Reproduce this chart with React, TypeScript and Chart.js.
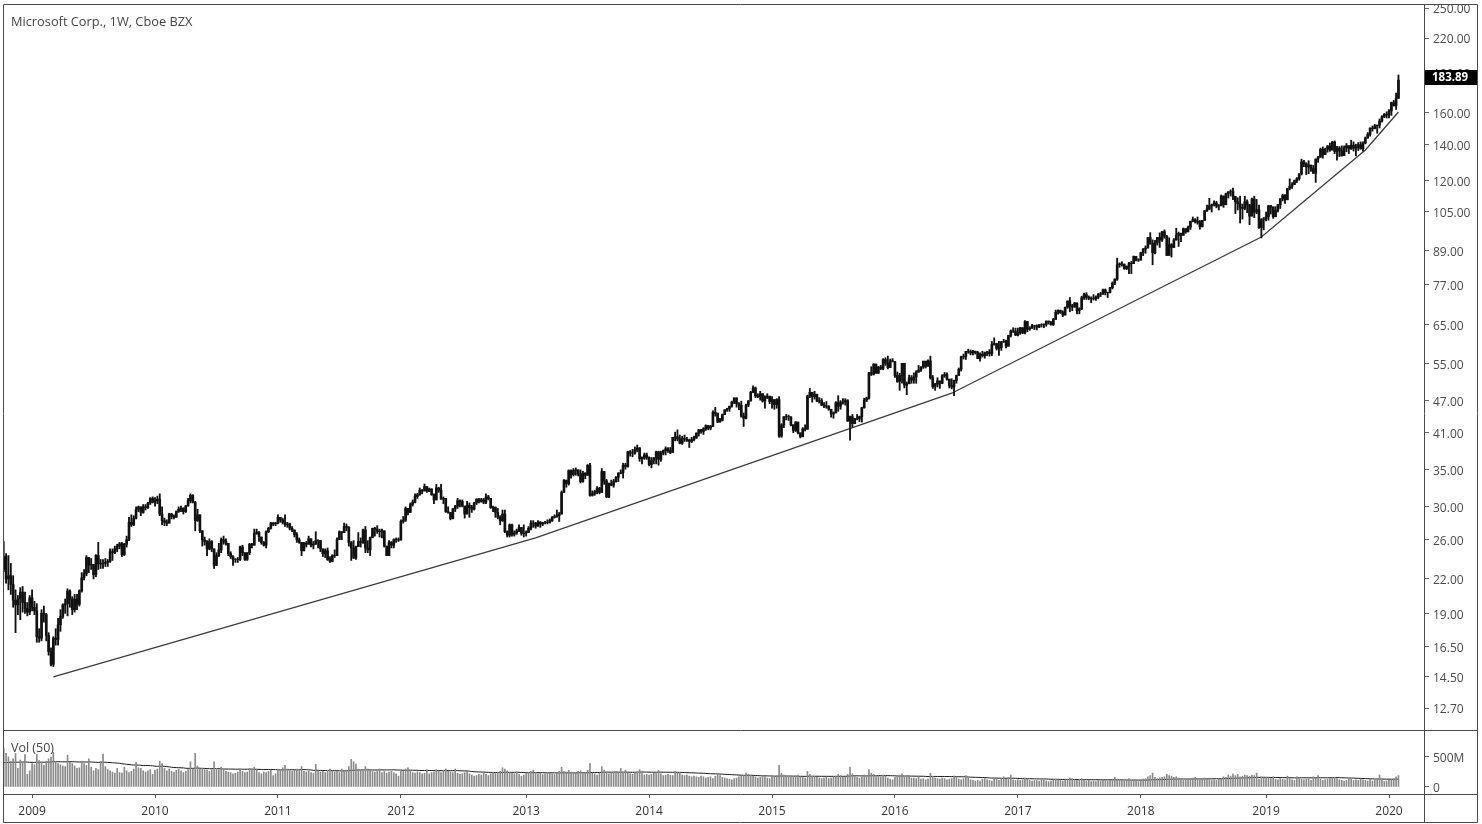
import React, { useEffect, useRef } from 'react';
import { Chart, registerables } from 'chart.js';

Chart.register(...registerables);

// ---- Data (weekly, first bar = week of 13 Oct 2008) ----
const yearLabels = ['2009', '2010', '2011', '2012', '2013', '2014', '2015', '2016', '2017', '2018', '2019', '2020'];
const yearWeekIndex = [12, 64, 116, 168, 221, 273, 325, 377, 429, 481, 534, 586];
const priceTicks = [12.7, 14.5, 16.5, 19, 22, 26, 30, 35, 41, 47, 55, 65, 77, 89, 105, 120, 140, 160, 190, 220, 250];
const volumeTicks = [0, 500];
const lastPrice = 183.89;
const firstOpen = 22.9;
const volumeBeforeChart = 400; // average weekly volume (M) before the first visible bar

const weeklyClose = [
  24.2, 22.0, 22.3, 21.5, 20.1, 19.7, 20.2, 20.8, 19.9, 19.4, 19.1, 20.3,
  19.5, 19.2, 17.2, 17.1, 19.0, 18.9, 17.3, 16.15, 15.3, 17.1, 17.0, 18.1, 18.75, 19.7, 19.8, 20.9, 20.2, 19.3, 20.2, 19.75, 20.9, 22.1, 22.5, 24.1, 23.35, 23.4, 22.4, 24.3, 23.45, 23.5, 23.5, 23.6, 23.7, 24.7, 24.6, 25.0, 25.3, 25.55, 24.4, 25.5, 26.0, 28.0, 27.7, 28.5, 29.6, 29.9, 29.2, 29.9, 29.8, 30.4, 31.0, 30.5,
  30.7, 30.9, 29.0, 28.2, 28.0, 27.9, 29.0, 28.7, 28.6, 29.3, 29.6, 29.7, 29.3, 30.0, 30.7, 31.4, 30.5, 28.2, 28.9, 27.0, 26.0, 25.8, 25.0, 25.8, 25.0, 23.3, 24.3, 24.9, 26.0, 25.8, 25.6, 24.5, 24.2, 23.9, 23.9, 23.9, 25.2, 24.6, 23.9, 24.6, 25.5, 25.4, 26.7, 26.85, 26.3, 25.7, 25.4, 26.9, 27.3, 27.9, 27.8, 27.9,
  28.6, 28.3, 28.0, 27.75, 27.8, 27.3, 27.1, 26.55, 26.0, 25.7, 24.8, 25.6, 25.5, 26.1, 25.4, 25.5, 25.9, 25.9, 25.0, 24.5, 24.8, 23.9, 23.7, 24.3, 24.3, 26.0, 26.9, 26.8, 27.5, 27.4, 25.7, 25.1, 24.05, 25.25, 25.8, 25.7, 27.1, 25.1, 24.9, 26.25, 27.3, 27.2, 26.98, 26.9, 27.0, 25.3, 24.3, 25.7, 25.4, 26.0, 26.0, 25.96,
  28.1, 28.25, 29.7, 29.2, 30.2, 30.5, 31.25, 31.5, 32.1, 31.99, 32.6, 31.99, 32.26, 31.5, 30.8, 32.4, 32.1, 30.9, 31.0, 29.3, 29.2, 28.45, 29.65, 30.0, 30.7, 30.6, 30.0, 29.0, 30.1, 29.8, 29.6, 30.4, 30.9, 30.6, 30.8, 30.5, 31.2, 31.0, 29.8, 29.85, 29.2, 28.6, 28.2, 29.0, 26.9, 26.5, 27.7, 26.6, 26.75, 27.0, 27.4, 26.7, 26.75,
  26.8, 27.3, 27.9, 27.9, 27.55, 28.0, 27.8, 27.95, 28.0, 28.0, 28.2, 28.6, 28.7, 28.8, 29.0, 31.8, 33.5, 33.0, 34.9, 34.3, 34.9, 35.0, 34.4, 33.3, 34.5, 34.2, 35.7, 31.4, 31.6, 31.9, 32.35, 31.8, 34.75, 33.4, 31.2, 33.0, 32.8, 33.3, 33.9, 34.5, 34.6, 35.7, 35.5, 37.8, 37.6, 37.6, 38.1, 38.4, 36.7, 36.8, 37.3, 36.9,
  35.8, 36.4, 36.8, 37.8, 36.6, 37.6, 37.98, 38.3, 38.0, 37.7, 40.2, 40.3, 39.9, 39.2, 40.0, 39.9, 39.7, 39.5, 39.8, 40.1, 40.9, 41.5, 41.2, 41.7, 42.25, 41.8, 42.1, 44.7, 44.5, 42.9, 43.2, 44.3, 45.2, 45.4, 45.9, 46.7, 47.5, 46.4, 46.1, 44.0, 43.6, 46.1, 46.95, 48.7, 49.6, 47.98, 47.8, 48.4, 46.95, 47.7, 47.9, 46.8,
  47.2, 46.2, 47.2, 40.4, 42.4, 43.9, 43.9, 43.85, 42.4, 41.4, 42.9, 40.97, 40.3, 41.7, 41.6, 47.9, 48.7, 47.8, 48.3, 46.9, 47.0, 46.1, 45.97, 45.9, 45.3, 44.4, 44.6, 46.6, 45.9, 46.7, 46.7, 47.0, 43.1, 43.9, 42.6, 43.5, 43.5, 43.9, 45.6, 47.1, 47.5, 52.9, 52.6, 54.9, 52.8, 54.2, 53.9, 56.0, 55.1, 54.1, 55.7, 55.5,
  52.3, 50.99, 52.3, 55.1, 50.2, 50.5, 51.8, 51.3, 52.0, 53.1, 53.5, 54.2, 55.6, 54.4, 55.65, 51.8, 49.9, 50.4, 51.1, 50.6, 52.3, 52.5, 51.5, 50.1, 49.8, 51.2, 52.3, 53.7, 56.6, 56.7, 57.96, 57.9, 57.6, 58.0, 57.7, 56.2, 57.25, 56.9, 57.6, 57.8, 57.4, 59.7, 59.9, 58.7, 58.9, 60.35, 60.5, 59.25, 62.0, 63.2, 63.2, 62.1,
  62.8, 64.1, 62.7, 65.8, 63.7, 64.0, 64.6, 64.6, 64.25, 64.9, 64.9, 64.98, 65.9, 65.7, 64.95, 66.4, 68.5, 69.0, 68.4, 67.7, 69.96, 71.8, 70.3, 70.0, 71.2, 68.9, 69.5, 72.8, 73.8, 73.0, 72.7, 72.5, 72.5, 73.0, 73.9, 73.98, 75.3, 74.4, 74.5, 76.0, 77.5, 78.8, 83.8, 84.1, 84.0, 82.4, 83.3, 84.3, 84.2, 86.85, 85.5, 85.5,
  88.2, 89.6, 90.0, 94.1, 91.8, 88.2, 92.0, 94.1, 93.1, 96.5, 94.6, 87.2, 91.3, 90.2, 93.1, 95.0, 95.8, 95.0, 97.7, 96.4, 98.4, 100.8, 101.6, 100.9, 100.4, 98.6, 101.2, 105.4, 106.3, 107.7, 108.1, 109.0, 107.6, 107.7, 112.3, 108.2, 113.4, 114.3, 114.4, 112.1, 109.6, 108.7, 106.96, 106.5, 109.6, 108.3, 103.1, 110.9, 104.8, 106.0, 98.2, 101.6, 101.9,
  102.8, 107.7, 107.2, 102.8, 105.7, 108.2, 110.97, 112.5, 110.5, 115.9, 117.05, 117.9, 119.9, 120.95, 123.4, 129.9, 128.9, 127.1, 128.1, 126.2, 123.7, 131.4, 132.45, 137.0, 133.96, 137.1, 138.9, 136.6, 141.3, 135.7, 137.7, 136.1, 133.4, 137.9, 139.1, 137.3, 139.4, 137.7, 138.1, 139.7, 137.4, 140.7, 143.7, 145.96, 149.97, 149.6, 151.4, 151.75, 154.5, 157.4, 158.96, 158.6,
  161.3, 167.1, 165.04, 170.2, 183.89,
];

const weeklyHigh = [
  25.8, 24.5, 24.3, 23.5, 22.3, 21.0, 20.5, 21.2, 21.3, 20.8, 19.9, 20.5,
  21.0, 20.0, 19.8, 17.8, 19.3, 19.6, 19.0, 17.5, 16.4, 17.2, 17.8, 18.6, 19.3, 19.8, 20.2, 21.1, 21.0, 20.4, 20.6, 20.6, 21.0, 22.6, 22.9, 24.3, 24.1, 24.0, 23.4, 24.4, 25.7, 23.9, 23.9, 24.0, 23.9, 25.0, 25.0, 25.3, 25.5, 25.7, 25.7, 25.6, 26.4, 28.6, 28.9, 28.8, 29.9, 30.0, 29.9, 30.2, 30.2, 30.5, 31.1, 31.2,
  31.1, 31.3, 31.6, 29.9, 28.5, 28.3, 29.1, 29.1, 28.9, 29.4, 29.9, 30.0, 29.8, 30.1, 31.0, 31.6, 31.5, 30.6, 29.6, 28.9, 27.0, 26.3, 25.9, 26.1, 25.9, 24.9, 24.6, 25.6, 26.2, 26.4, 26.1, 25.5, 24.7, 24.3, 24.0, 24.1, 25.3, 25.4, 24.6, 24.6, 25.6, 25.6, 27.2, 27.2, 26.9, 26.2, 25.8, 27.0, 27.4, 28.0, 28.0, 28.0,
  28.9, 28.6, 28.5, 28.9, 28.0, 27.9, 27.5, 27.1, 26.8, 26.2, 25.7, 25.7, 25.8, 26.4, 26.0, 25.8, 26.9, 26.0, 25.6, 25.0, 25.0, 25.1, 24.2, 24.4, 24.9, 26.2, 27.0, 26.9, 27.9, 27.8, 27.5, 25.8, 25.9, 25.3, 26.8, 26.2, 27.2, 27.5, 25.9, 26.3, 27.3, 27.4, 27.6, 27.2, 27.2, 27.0, 25.3, 25.9, 25.8, 26.1, 26.2, 26.2,
  28.3, 28.7, 29.9, 29.7, 30.4, 30.8, 31.6, 31.7, 32.4, 32.2, 32.95, 32.5, 32.4, 32.3, 31.6, 32.9, 32.5, 32.9, 31.2, 30.9, 29.9, 29.2, 29.7, 30.1, 31.0, 30.8, 30.8, 30.0, 30.6, 30.4, 30.1, 30.5, 30.95, 31.0, 31.0, 31.0, 31.6, 31.4, 31.0, 30.0, 29.9, 29.7, 28.8, 29.5, 29.5, 27.0, 27.8, 27.8, 27.0, 27.2, 27.7, 27.4, 27.7,
  27.0, 27.5, 28.2, 28.2, 28.0, 28.2, 28.1, 28.0, 28.1, 28.3, 28.4, 28.7, 28.9, 29.5, 29.2, 32.0, 33.6, 33.5, 35.0, 35.0, 35.2, 35.3, 35.0, 35.0, 34.8, 34.6, 35.8, 36.0, 32.0, 32.1, 32.6, 32.5, 35.2, 34.8, 33.6, 33.1, 33.5, 33.6, 34.0, 34.6, 35.0, 36.0, 36.0, 37.9, 38.0, 38.2, 38.6, 38.9, 38.5, 37.0, 37.6, 37.6,
  37.0, 36.9, 36.9, 37.9, 37.9, 37.9, 38.1, 38.6, 38.5, 38.5, 40.2, 41.1, 41.5, 40.6, 40.4, 40.6, 40.2, 39.9, 40.2, 40.4, 41.0, 41.6, 41.6, 41.9, 42.4, 42.3, 42.3, 45.0, 45.7, 44.6, 43.6, 44.4, 45.2, 45.5, 45.9, 46.9, 47.6, 47.6, 46.6, 46.9, 44.6, 46.3, 47.0, 48.9, 50.05, 49.8, 48.4, 48.9, 48.4, 48.0, 48.4, 47.9,
  47.8, 47.2, 47.4, 47.8, 42.6, 43.9, 44.3, 44.2, 43.9, 42.4, 43.0, 42.9, 40.9, 41.9, 42.4, 48.1, 49.5, 48.7, 48.9, 48.3, 47.6, 47.4, 46.6, 46.8, 46.0, 45.2, 44.8, 46.8, 48.0, 47.0, 47.4, 47.4, 47.2, 44.0, 44.3, 43.6, 44.3, 44.0, 45.7, 47.5, 47.7, 53.0, 54.3, 55.0, 54.9, 54.4, 54.6, 56.2, 56.4, 56.8, 56.1, 56.2,
  55.4, 53.1, 52.8, 55.1, 55.1, 50.9, 52.4, 52.3, 52.9, 53.4, 54.6, 54.3, 55.6, 55.3, 55.9, 56.8, 52.3, 50.6, 51.8, 51.1, 52.5, 53.0, 52.9, 51.1, 51.6, 51.3, 52.4, 54.0, 56.8, 57.3, 58.0, 58.5, 58.3, 58.2, 58.0, 58.0, 57.6, 58.0, 57.8, 58.0, 58.4, 60.45, 61.4, 60.0, 60.5, 60.5, 61.0, 60.8, 62.1, 63.5, 64.1, 64.0,
  64.0, 64.2, 64.1, 66.1, 65.9, 64.4, 65.0, 64.8, 64.9, 65.0, 65.2, 65.2, 66.0, 66.0, 65.8, 66.7, 69.1, 69.2, 69.1, 68.9, 70.0, 71.9, 72.9, 70.8, 71.4, 71.3, 69.8, 73.3, 74.3, 74.4, 73.4, 73.1, 73.8, 73.4, 74.2, 74.5, 75.6, 75.6, 74.6, 76.1, 77.9, 78.97, 86.2, 84.5, 84.9, 84.1, 83.4, 84.7, 85.0, 87.0, 86.9, 86.0,
  88.4, 89.8, 90.8, 94.1, 96.1, 93.2, 93.0, 94.2, 96.0, 96.5, 97.2, 95.0, 94.0, 91.7, 93.7, 97.9, 96.3, 95.9, 98.0, 97.7, 98.8, 100.9, 102.7, 102.0, 102.7, 101.2, 101.2, 105.6, 108.0, 111.2, 108.5, 110.0, 109.8, 108.3, 112.8, 112.0, 113.7, 114.4, 115.3, 116.2, 112.2, 111.5, 112.2, 108.5, 112.2, 110.5, 107.3, 111.3, 112.2, 110.7, 108.0, 102.0, 102.5,
  104.9, 107.9, 107.9, 107.0, 107.3, 108.3, 111.0, 113.2, 113.0, 116.0, 120.8, 118.9, 120.2, 121.5, 123.5, 131.4, 130.7, 129.4, 130.5, 128.0, 127.9, 131.5, 133.0, 137.7, 138.4, 137.7, 139.2, 140.7, 141.7, 142.0, 138.8, 138.6, 139.0, 139.0, 140.4, 138.3, 142.4, 141.4, 140.0, 141.0, 141.4, 141.4, 144.4, 147.1, 150.1, 151.3, 152.3, 152.0, 155.9, 158.1, 159.6, 160.7,
  162.2, 167.5, 168.7, 174.05, 188.0,
];

const weeklyLow = [
  22.7, 21.6, 21.0, 20.6, 19.5, 17.5, 18.9, 18.5, 19.1, 19.0, 18.8, 18.9,
  19.2, 18.9, 16.8, 16.8, 16.9, 18.3, 16.9, 15.9, 15.2, 15.15, 16.6, 16.6, 17.6, 18.6, 19.0, 18.8, 19.5, 18.9, 19.1, 19.3, 19.6, 20.8, 21.9, 22.3, 22.6, 22.9, 22.0, 22.2, 22.9, 23.0, 23.0, 23.2, 23.2, 23.6, 23.8, 24.5, 24.7, 25.0, 24.2, 24.3, 25.2, 25.9, 27.5, 27.6, 28.4, 29.3, 28.8, 29.1, 29.5, 29.7, 30.2, 30.4,
  30.0, 30.3, 28.8, 27.7, 27.6, 27.6, 27.9, 28.4, 28.4, 28.6, 29.2, 29.3, 29.0, 29.2, 30.0, 30.4, 30.4, 27.0, 28.1, 26.8, 25.3, 25.4, 24.3, 24.9, 24.7, 23.0, 23.3, 24.2, 24.6, 25.5, 25.4, 24.3, 24.0, 23.3, 23.6, 23.6, 23.8, 24.3, 23.8, 23.8, 24.4, 25.1, 25.6, 26.6, 25.8, 25.5, 25.3, 25.1, 26.8, 27.2, 27.6, 27.6,
  27.8, 28.0, 27.8, 27.5, 27.4, 27.1, 26.9, 26.3, 25.7, 25.6, 24.3, 24.9, 25.2, 25.5, 25.2, 25.0, 25.6, 25.1, 24.7, 24.2, 24.1, 23.8, 23.6, 23.65, 24.1, 24.3, 26.0, 26.0, 26.8, 27.0, 25.3, 23.8, 24.0, 23.9, 25.3, 25.2, 25.6, 24.6, 24.6, 24.3, 26.2, 26.4, 26.7, 26.3, 26.2, 25.2, 24.3, 24.6, 25.1, 25.1, 25.7, 25.8,
  26.1, 27.9, 28.1, 28.9, 29.2, 30.0, 30.4, 31.0, 31.4, 31.6, 32.0, 31.8, 31.9, 31.4, 30.3, 30.9, 31.8, 30.9, 30.3, 29.2, 29.1, 28.3, 28.4, 29.3, 29.7, 29.9, 29.9, 28.5, 29.0, 28.6, 29.2, 29.5, 30.2, 30.4, 30.5, 30.3, 30.3, 30.8, 29.7, 29.3, 28.6, 28.4, 27.7, 28.1, 26.8, 26.3, 26.3, 26.4, 26.4, 26.6, 26.9, 26.5, 26.3,
  26.4, 26.8, 27.1, 27.4, 27.3, 27.5, 27.4, 27.6, 27.8, 27.8, 27.9, 28.1, 28.5, 28.6, 28.1, 29.0, 31.8, 32.5, 32.8, 33.8, 34.1, 34.2, 34.1, 33.1, 33.2, 33.7, 34.2, 31.3, 31.3, 31.4, 31.6, 31.6, 31.8, 32.9, 31.1, 31.1, 32.7, 32.5, 33.2, 33.3, 34.4, 33.8, 35.1, 35.4, 37.1, 37.0, 37.4, 37.8, 36.3, 35.9, 36.6, 36.6,
  35.6, 35.3, 35.9, 35.9, 35.7, 36.3, 37.3, 37.3, 37.7, 37.5, 37.8, 39.6, 39.6, 39.1, 39.0, 39.5, 39.5, 38.5, 39.3, 39.6, 40.0, 40.4, 40.9, 40.7, 41.4, 41.5, 41.5, 42.1, 44.0, 42.8, 42.9, 43.1, 44.3, 44.9, 44.9, 45.7, 46.4, 45.7, 45.2, 43.8, 42.1, 43.5, 45.8, 46.9, 48.6, 47.6, 47.6, 47.1, 46.7, 45.5, 47.4, 46.4,
  45.5, 45.3, 45.5, 40.2, 40.2, 41.9, 43.3, 43.2, 42.2, 41.0, 41.2, 40.8, 40.1, 40.3, 41.3, 41.7, 47.6, 46.7, 47.3, 46.8, 46.5, 46.0, 45.6, 45.5, 45.1, 43.8, 43.6, 44.6, 44.9, 45.3, 46.3, 46.1, 43.0, 39.7, 42.0, 42.6, 43.3, 43.0, 42.9, 45.5, 46.8, 47.3, 52.3, 52.4, 52.8, 53.0, 53.6, 53.6, 54.6, 53.8, 54.3, 55.4,
  51.9, 50.8, 49.1, 50.6, 49.6, 48.2, 50.5, 50.6, 50.6, 50.6, 53.0, 53.2, 53.9, 54.0, 54.5, 51.5, 49.5, 49.1, 49.8, 49.5, 50.5, 51.9, 51.3, 49.6, 49.4, 48.0, 50.6, 52.3, 53.3, 56.1, 56.0, 57.5, 57.1, 57.1, 57.3, 56.2, 55.6, 56.6, 56.3, 56.9, 56.8, 56.9, 59.5, 58.3, 57.0, 58.2, 60.2, 58.8, 59.3, 61.6, 62.8, 62.0,
  61.9, 62.3, 62.5, 62.4, 63.0, 63.4, 63.9, 63.6, 63.5, 64.1, 64.3, 64.1, 64.5, 65.1, 64.8, 64.7, 66.4, 67.9, 68.1, 67.2, 67.6, 69.6, 68.6, 68.9, 69.9, 68.0, 68.0, 69.2, 72.3, 72.3, 72.2, 71.3, 72.1, 72.0, 72.5, 73.2, 73.9, 73.7, 72.9, 74.3, 75.6, 77.0, 78.4, 82.9, 83.3, 82.2, 82.1, 80.7, 80.7, 84.2, 85.2, 85.0,
  85.5, 87.1, 88.0, 90.0, 91.4, 83.8, 87.8, 91.1, 90.2, 92.6, 93.8, 87.1, 87.5, 86.6, 90.5, 94.4, 90.6, 92.5, 95.1, 95.8, 96.5, 97.4, 100.6, 100.1, 99.6, 97.5, 98.4, 101.4, 105.2, 105.9, 104.9, 107.6, 106.8, 105.8, 108.1, 107.0, 108.4, 111.3, 112.3, 110.6, 104.2, 105.8, 100.1, 101.8, 105.9, 104.6, 99.4, 103.5, 102.4, 104.1, 97.8, 93.96, 97.2,
  100.98, 101.3, 104.0, 102.1, 103.3, 104.9, 106.5, 110.0, 108.8, 110.9, 115.3, 116.0, 118.0, 118.9, 120.1, 122.8, 127.2, 123.0, 123.5, 124.7, 123.6, 119.0, 129.6, 132.6, 131.9, 135.2, 135.3, 135.8, 136.7, 134.5, 130.8, 132.8, 133.0, 133.6, 135.6, 134.5, 136.9, 136.0, 133.2, 136.3, 137.0, 135.9, 140.2, 143.6, 144.9, 148.0, 149.4, 146.7, 150.0, 153.8, 156.7, 156.5,
  156.5, 158.3, 164.6, 162.3, 170.2,
];

// weekly volume, millions of shares
const weeklyVolume = [
  650, 560, 500, 430, 470, 560, 310, 450, 420, 540, 210, 270,
  390, 370, 540, 440, 400, 360, 430, 470, 500, 580, 430, 390, 370, 350, 340, 530, 410, 390, 350, 310, 320, 430, 390, 360, 470, 330, 270, 310, 290, 430, 550, 340, 290, 270, 250, 230, 310, 240, 230, 330, 270, 240, 260, 300, 410, 320, 310, 270, 250, 270, 290, 210,
  280, 300, 430, 390, 310, 270, 300, 260, 250, 280, 300, 270, 240, 260, 290, 420, 300, 560, 350, 300, 310, 290, 280, 260, 290, 420, 310, 290, 330, 300, 260, 250, 240, 220, 230, 250, 290, 260, 240, 250, 310, 300, 330, 280, 240, 220, 250, 240, 260, 280, 190, 220,
  300, 280, 320, 360, 300, 270, 260, 280, 300, 290, 340, 260, 250, 260, 240, 230, 380, 270, 250, 260, 240, 280, 300, 270, 250, 260, 240, 300, 260, 280, 340, 460, 420, 380, 300, 280, 260, 340, 300, 280, 260, 250, 270, 300, 240, 260, 230, 250, 260, 240, 220, 180,
  280, 260, 300, 320, 260, 240, 230, 250, 240, 220, 230, 290, 220, 240, 250, 290, 260, 240, 280, 300, 260, 250, 240, 300, 230, 210, 220, 240, 260, 220, 200, 180, 190, 210, 200, 240, 210, 190, 220, 240, 230, 250, 260, 320, 300, 270, 240, 230, 220, 250, 210, 180, 200,
  230, 240, 260, 280, 240, 220, 230, 210, 220, 240, 230, 220, 210, 230, 260, 330, 260, 250, 280, 250, 240, 230, 260, 270, 220, 230, 280, 390, 230, 220, 200, 230, 340, 280, 250, 220, 230, 250, 260, 240, 310, 250, 280, 230, 220, 210, 240, 250, 290, 260, 200, 210,
  200, 210, 230, 240, 280, 220, 190, 200, 210, 200, 190, 260, 230, 240, 200, 190, 200, 180, 170, 180, 170, 160, 180, 170, 150, 160, 170, 140, 180, 230, 190, 160, 150, 140, 130, 120, 140, 150, 170, 180, 190, 230, 210, 200, 180, 170, 150, 160, 190, 180, 150, 140,
  180, 170, 190, 360, 230, 200, 190, 180, 170, 180, 190, 200, 170, 160, 150, 260, 210, 180, 170, 160, 150, 140, 150, 160, 140, 150, 170, 180, 210, 190, 170, 160, 210, 330, 220, 180, 160, 150, 170, 200, 170, 290, 230, 210, 190, 180, 170, 200, 180, 150, 130, 120,
  160, 190, 200, 220, 170, 190, 160, 150, 150, 140, 170, 130, 140, 120, 130, 230, 180, 150, 140, 130, 150, 140, 120, 130, 140, 180, 170, 130, 120, 140, 190, 150, 120, 110, 100, 110, 100, 130, 140, 120, 110, 100, 150, 160, 110, 140, 170, 130, 160, 200, 120, 110,
  120, 110, 120, 150, 130, 110, 100, 110, 110, 100, 120, 110, 100, 90, 100, 110, 130, 120, 110, 100, 120, 130, 150, 140, 120, 110, 130, 140, 120, 100, 110, 90, 100, 90, 110, 100, 120, 110, 100, 110, 120, 160, 130, 120, 110, 100, 120, 140, 110, 120, 110, 90,
  120, 130, 140, 170, 190, 230, 160, 140, 150, 160, 170, 210, 190, 180, 160, 170, 150, 120, 110, 120, 130, 140, 150, 160, 130, 120, 140, 150, 130, 120, 110, 120, 110, 130, 140, 170, 160, 200, 180, 220, 190, 210, 170, 180, 200, 190, 180, 200, 190, 230, 130, 170, 150,
  160, 150, 140, 170, 130, 120, 140, 130, 120, 180, 140, 120, 110, 170, 140, 130, 120, 130, 140, 110, 170, 150, 190, 130, 110, 120, 130, 140, 150, 160, 140, 120, 110, 100, 110, 150, 130, 110, 120, 110, 130, 120, 110, 100, 130, 100, 110, 140, 200, 110, 90, 100,
  110, 120, 140, 170, 190,
];

const trendWeekIndex = [21, 225, 401, 532, 576, 590];
const trendValue = [14.5, 26.2, 48.5, 94.3, 136.6, 160.6];

const FONT = "'Open Sans', 'DejaVu Sans', sans-serif";

export default function App() {
  const canvasRef = useRef<HTMLCanvasElement | null>(null);

  useEffect(() => {
    const canvas = canvasRef.current;
    if (!canvas) return;
    Chart.defaults.font.family = FONT;

    const opens = weeklyClose.map((c, i) => (i === 0 ? firstOpen : weeklyClose[i - 1]));
    const wickData = weeklyClose.map((c, i) => ({
      x: i,
      y: [Math.min(weeklyLow[i], opens[i], c), Math.max(weeklyHigh[i], opens[i], c)],
    }));
    const bodyData = weeklyClose.map((c, i) => ({ x: i, y: [opens[i], c] }));
    const volData = weeklyVolume.map((v, i) => ({ x: i, y: v }));
    const maData = weeklyVolume.map((v, i) => {
      const start = i - 49;
      let sum = 0;
      for (let k = start; k <= i; k++) sum += k < 0 ? volumeBeforeChart : weeklyVolume[k];
      return { x: i, y: sum / 50 };
    });
    const trendData = trendWeekIndex.map((w, i) => ({ x: w, y: trendValue[i] }));

    const noPad = (s: any) => {
      s.paddingTop = 0;
      s.paddingBottom = 0;
      s.paddingLeft = 0;
      s.paddingRight = 0;
    };

    const framePlugin = {
      id: 'frame',
      afterDraw(chart: any) {
        const ctx = chart.ctx;
        const yp = chart.scales.yPrice;
        ctx.save();
        ctx.strokeStyle = '#4a4a4a';
        ctx.lineWidth = 1;
        const L = 3.5, R = 1477.5, T = 4.5, B = 822.5, A = 1424.5;
        const seg = (x1: number, y1: number, x2: number, y2: number) => {
          ctx.beginPath();
          ctx.moveTo(x1, y1);
          ctx.lineTo(x2, y2);
          ctx.stroke();
        };
        seg(L, T, R, T);
        seg(L, T, L, B);
        seg(R, T, R, B);
        seg(L, B, R, B);
        seg(A, T, A, B);
        seg(L, 730.5, R, 730.5);
        seg(L, 794.5, R, 794.5);
        // last price label
        const py = yp.getPixelForValue(lastPrice) - 2.5;
        const top = Math.round(py - 7.5);
        ctx.fillStyle = '#000';
        ctx.fillRect(1425, top, 52, 15);
        ctx.fillStyle = '#fff';
        ctx.font = `bold 11.5px ${FONT}`;
        ctx.textBaseline = 'middle';
        ctx.textAlign = 'left';
        ctx.fillText(lastPrice.toFixed(2), 1432, top + 8);
        ctx.restore();
      },
    };

    const chart = new Chart(canvas, {
      type: 'bar',
      data: {
        datasets: [
          {
            type: 'bar',
            data: wickData as any,
            yAxisID: 'yPrice',
            xAxisID: 'x',
            backgroundColor: '#111',
            barThickness: 1.2,
            grouped: false,
          } as any,
          {
            type: 'bar',
            data: bodyData as any,
            yAxisID: 'yPrice',
            xAxisID: 'x',
            backgroundColor: '#111',
            barThickness: 2,
            grouped: false,
          } as any,
          {
            type: 'line',
            data: trendData as any,
            yAxisID: 'yPrice',
            xAxisID: 'x',
            borderColor: '#3c3c3c',
            borderWidth: 1.3,
            pointRadius: 0,
            tension: 0,
          } as any,
          {
            type: 'bar',
            data: volData as any,
            yAxisID: 'yVol',
            xAxisID: 'x',
            backgroundColor: '#8a8a8a',
            barThickness: 1,
            grouped: false,
          } as any,
          {
            type: 'line',
            data: maData as any,
            yAxisID: 'yVol',
            xAxisID: 'x',
            borderColor: '#1a1a1a',
            borderWidth: 1,
            pointRadius: 0,
            tension: 0,
          } as any,
        ],
      },
      options: {
        animation: false,
        responsive: false,
        maintainAspectRatio: false,
        events: [],
        layout: { padding: { left: 3, top: 4, right: 0, bottom: 0 } },
        plugins: { legend: { display: false }, tooltip: { enabled: false }, title: { display: false } },
        scales: {
          x: {
            type: 'linear',
            position: 'bottom',
            min: -0.3,
            max: 600.8,
            offset: false,
            grid: { display: true, offset: false, drawOnChartArea: false, drawTicks: true, tickLength: 4, color: '#555' },
            border: { display: false },
            ticks: {
              autoSkip: false,
              maxRotation: 0,
              padding: 6,
              color: '#333',
              font: { family: FONT, size: 12 },
              callback: (v: any) => {
                const k = yearWeekIndex.indexOf(Number(v));
                return k >= 0 ? yearLabels[k] : '';
              },
            },
            afterBuildTicks: (s: any) => {
              s.ticks = yearWeekIndex.map((v) => ({ value: v }));
            },
            afterFit: (s: any) => {
              s.height = 30;
              noPad(s);
            },
          },
          yPrice: {
            type: 'logarithmic',
            position: 'right',
            stack: 'panes',
            stackWeight: 726,
            min: 11.565,
            max: 254.3,
            grid: { display: true, drawOnChartArea: false, drawTicks: true, tickLength: 5, color: '#666' },
            border: { display: false },
            ticks: {
              autoSkip: false,
              padding: 4,
              labelOffset: 2,
              color: '#4a4a4a',
              font: { family: FONT, size: 12 },
              callback: (v: any) => Number(v).toFixed(2),
            },
            afterBuildTicks: (s: any) => {
              s.ticks = priceTicks.map((v) => ({ value: v }));
            },
            afterFit: (s: any) => {
              s.width = 58;
              noPad(s);
            },
          },
          yVol: {
            type: 'linear',
            position: 'right',
            stack: 'panes',
            stackWeight: 64,
            min: -116.7,
            max: 950,
            grid: { display: true, drawOnChartArea: false, drawTicks: true, tickLength: 5, color: '#666' },
            border: { display: false },
            ticks: {
              autoSkip: false,
              padding: 4,
              labelOffset: 2,
              color: '#4a4a4a',
              font: { family: FONT, size: 12 },
              callback: (v: any) => (Number(v) === 0 ? '0' : `${v}M`),
            },
            afterBuildTicks: (s: any) => {
              s.ticks = volumeTicks.map((v) => ({ value: v }));
            },
            afterFit: (s: any) => {
              s.width = 58;
              noPad(s);
            },
          },
        },
      } as any,
      plugins: [framePlugin],
    });

    return () => chart.destroy();
  }, []);

  return (
    <div style={{ position: 'absolute', left: 0, top: 0, width: 1482, height: 824, background: '#fff' }}>
      <canvas ref={canvasRef} width={1482} height={824} style={{ display: 'block', width: 1482, height: 824 }} />
      <div
        style={{
          position: 'absolute',
          left: 11,
          top: 13,
          fontFamily: FONT,
          fontSize: 12.8,
          lineHeight: '16px',
          color: '#444',
          whiteSpace: 'nowrap',
        }}
      >
        Microsoft Corp., 1W, Cboe BZX
      </div>
      <div
        style={{
          position: 'absolute',
          left: 11,
          top: 740,
          fontFamily: FONT,
          fontSize: 12.5,
          lineHeight: '16px',
          color: '#444',
          whiteSpace: 'nowrap',
        }}
      >
        Vol (50)
      </div>
    </div>
  );
}
